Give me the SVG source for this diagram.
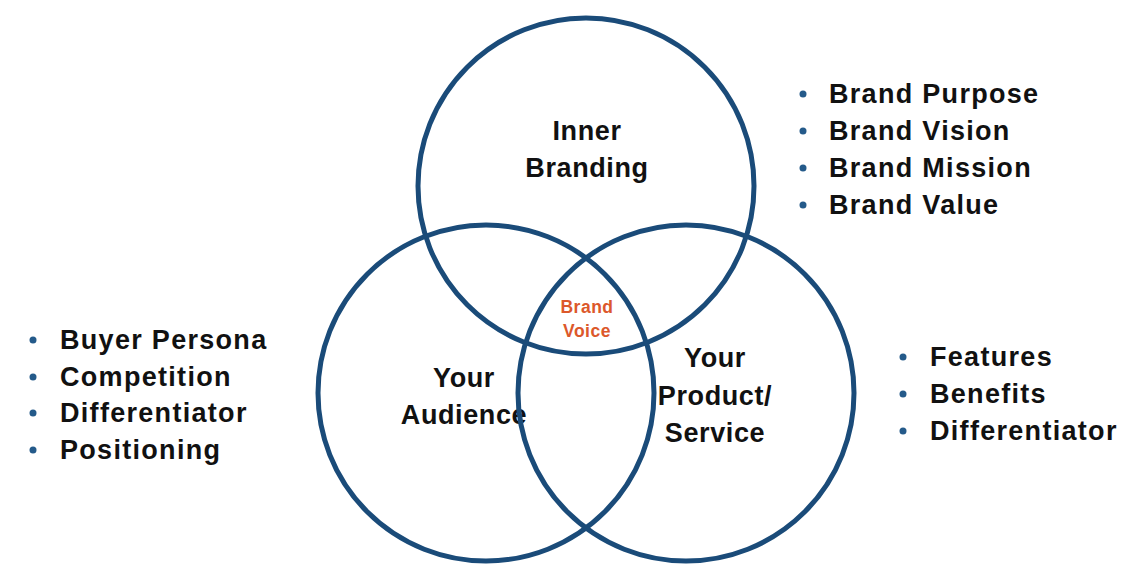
<svg xmlns="http://www.w3.org/2000/svg" width="1131" height="581" viewBox="0 0 1131 581">
<style>
.ring{fill:none;stroke:#1a4b79;stroke-width:5}
.lbl{font-family:"Liberation Sans",Arial,sans-serif;font-weight:bold;font-size:27px;fill:#111;letter-spacing:0.6px;text-anchor:middle}
.li{font-family:"Liberation Sans",Arial,sans-serif;font-weight:bold;font-size:27px;fill:#111;letter-spacing:1.3px}
.bv{font-family:"Liberation Sans",Arial,sans-serif;font-weight:bold;font-size:17.5px;fill:#dc582b;letter-spacing:0.5px;text-anchor:middle}
.dot{fill:#245a8a}
</style>
<rect width="1131" height="581" fill="#ffffff"/>
<g id="circle-inner-branding">
<circle class="ring" cx="586" cy="186" r="168"/>
<text class="lbl" x="587" y="140">Inner</text>
<text class="lbl" x="587" y="177">Branding</text>
</g>
<g id="circle-your-audience">
<circle class="ring" cx="486" cy="393" r="168"/>
<text class="lbl" x="464" y="387">Your</text>
<text class="lbl" x="464" y="424">Audience</text>
</g>
<g id="circle-product-service">
<circle class="ring" cx="686" cy="393" r="168"/>
<text class="lbl" x="715" y="367">Your</text>
<text class="lbl" x="715" y="405">Product/</text>
<text class="lbl" x="715" y="442">Service</text>
</g>
<g id="brand-voice">
<text class="bv" x="587" y="313">Brand</text>
<text class="bv" x="587" y="337">Voice</text>
</g>
<g id="list-inner-branding">
<circle class="dot" cx="803" cy="94" r="3.5"/>
<circle class="dot" cx="803" cy="131" r="3.5"/>
<circle class="dot" cx="803" cy="168" r="3.5"/>
<circle class="dot" cx="803" cy="205" r="3.5"/>
<text class="li" x="829" y="103">Brand Purpose</text>
<text class="li" x="829" y="140">Brand Vision</text>
<text class="li" x="829" y="177">Brand Mission</text>
<text class="li" x="829" y="214">Brand Value</text>
</g>
<g id="list-audience">
<circle class="dot" cx="33" cy="340" r="3.5"/>
<circle class="dot" cx="33" cy="377" r="3.5"/>
<circle class="dot" cx="33" cy="413" r="3.5"/>
<circle class="dot" cx="33" cy="450" r="3.5"/>
<text class="li" x="60" y="349">Buyer Persona</text>
<text class="li" x="60" y="386">Competition</text>
<text class="li" x="60" y="422">Differentiator</text>
<text class="li" x="60" y="459">Positioning</text>
</g>
<g id="list-product">
<circle class="dot" cx="903" cy="357" r="3.5"/>
<circle class="dot" cx="903" cy="394" r="3.5"/>
<circle class="dot" cx="903" cy="431" r="3.5"/>
<text class="li" x="930" y="366">Features</text>
<text class="li" x="930" y="403">Benefits</text>
<text class="li" x="930" y="440">Differentiator</text>
</g>
<g id="connectors"/>
</svg>
